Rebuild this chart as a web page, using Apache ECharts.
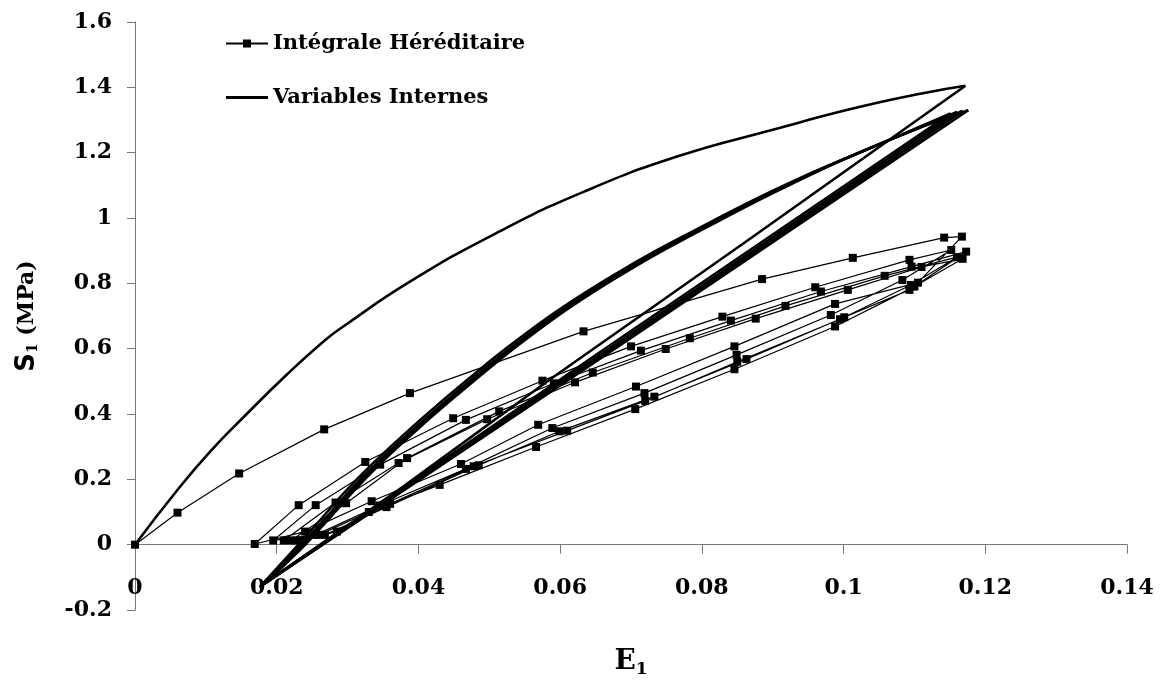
<!DOCTYPE html>
<html>
<head>
<meta charset="utf-8">
<script src="https://cdn.jsdelivr.net/npm/echarts@6/dist/echarts.min.js"></script>
<style>
  html, body { margin: 0; padding: 0; background: #fff; }
  #main { width: 1163px; height: 682px; }
</style>
</head>
<body>
<div id="main"></div>
<script>
// axis ranges / ticks
var xMin = 0, xMax = 0.14, xStep = 0.02;
var yMin = -0.2, yMax = 1.6, yStep = 0.2;

// Intégrale Héréditaire : points, in drawing order
var iiLoad1 = [[0, 0], [0.0060, 0.098], [0.0147, 0.218], [0.0267, 0.353], [0.0388, 0.464], [0.0633, 0.653], [0.0885, 0.813], [0.1013, 0.878], [0.1142, 0.940], [0.1167, 0.943]];
var iiUnload1 = [[0.1105, 0.802], [0.0988, 0.737], [0.0846, 0.607], [0.0707, 0.484], [0.0569, 0.367], [0.0460, 0.247], [0.0334, 0.133], [0.0240, 0.040], [0.0169, 0.002]];
var iiLoad2 = [[0.0231, 0.121], [0.0325, 0.253], [0.0449, 0.387], [0.0575, 0.502], [0.0700, 0.607], [0.0829, 0.698], [0.0960, 0.788], [0.1093, 0.872], [0.1152, 0.902]];
var iiUnload2 = [[0.1083, 0.810], [0.0982, 0.703], [0.0849, 0.581], [0.0719, 0.464], [0.0589, 0.357], [0.0467, 0.232], [0.0345, 0.120], [0.0255, 0.030], [0.0195, 0.013]];
var iiLoad3 = [[0.0255, 0.121], [0.0346, 0.245], [0.0467, 0.382], [0.0591, 0.494], [0.0714, 0.594], [0.0841, 0.686], [0.0968, 0.775], [0.1096, 0.851], [0.1173, 0.897]];
var iiUnload3 = [[0.1093, 0.780], [0.1001, 0.696], [0.0863, 0.568], [0.0733, 0.453], [0.0599, 0.347], [0.0485, 0.243], [0.0355, 0.115], [0.0268, 0.030], [0.0210, 0.013]];
var iiLoad4 = [[0.0283, 0.129], [0.0372, 0.250], [0.0497, 0.384], [0.0621, 0.497], [0.0749, 0.599], [0.0876, 0.692], [0.1006, 0.780], [0.1110, 0.850], [0.1168, 0.875]];
var iiUnload4 = [[0.1100, 0.790], [0.0988, 0.668], [0.0846, 0.537], [0.0706, 0.415], [0.0566, 0.299], [0.0430, 0.183], [0.0330, 0.100], [0.0260, 0.030], [0.0220, 0.013]];
var iiLoad5 = [[0.0298, 0.127], [0.0384, 0.265], [0.0514, 0.408], [0.0646, 0.527], [0.0783, 0.632], [0.0918, 0.731], [0.1058, 0.823], [0.1160, 0.880]];
var iiUnload5 = [[0.1095, 0.795], [0.0995, 0.690], [0.0850, 0.560], [0.0720, 0.440], [0.0610, 0.349], [0.0478, 0.240], [0.0360, 0.125], [0.0285, 0.040], [0.0228, 0.013]];

// Variables Internes : one branch per array
var viLoad1 = [[0, 0], [0.0059, 0.165], [0.0106, 0.285], [0.0153, 0.390], [0.0214, 0.520], [0.0266, 0.622], [0.0294, 0.668], [0.0388, 0.805], [0.0511, 0.955], [0.0633, 1.080], [0.0765, 1.188], [0.0900, 1.270], [0.1013, 1.335], [0.1112, 1.382], [0.1172, 1.405]];
var viUnload1 = [[0.1172, 1.405], [0.0867, 0.935], [0.0585, 0.505], [0.0380, 0.180], [0.0176, -0.130]];
var viLoad2 = [[0.0176, -0.130], [0.0220, -0.025], [0.0251, 0.050], [0.0313, 0.200], [0.0379, 0.336], [0.0440, 0.452], [0.0499, 0.558], [0.0544, 0.634], [0.0614, 0.742], [0.0709, 0.868], [0.0781, 0.952], [0.0916, 1.100], [0.1057, 1.232], [0.1151, 1.320]];
var viUnload2 = [[0.1151, 1.320], [0.0660, 0.595], [0.0178, -0.125]];
var viLoad3 = [[0.0178, -0.125], [0.0225, -0.022], [0.0257, 0.052], [0.0319, 0.202], [0.0385, 0.338], [0.0446, 0.453], [0.0505, 0.559], [0.0550, 0.635], [0.0620, 0.743], [0.0715, 0.869], [0.0787, 0.953], [0.0922, 1.103], [0.1062, 1.236], [0.1160, 1.325]];
var viUnload3 = [[0.1160, 1.325], [0.0668, 0.598], [0.0180, -0.122]];
var viLoad4 = [[0.0180, -0.122], [0.0229, -0.020], [0.0261, 0.054], [0.0323, 0.204], [0.0389, 0.340], [0.0450, 0.455], [0.0509, 0.561], [0.0554, 0.637], [0.0624, 0.745], [0.0719, 0.871], [0.0791, 0.956], [0.0926, 1.106], [0.1066, 1.240], [0.1168, 1.328]];
var viUnload4 = [[0.1168, 1.328], [0.0675, 0.600], [0.0182, -0.120]];
var viLoad5 = [[0.0182, -0.120], [0.0232, -0.018], [0.0264, 0.056], [0.0327, 0.206], [0.0393, 0.342], [0.0454, 0.457], [0.0513, 0.563], [0.0558, 0.639], [0.0628, 0.747], [0.0723, 0.873], [0.0795, 0.958], [0.0930, 1.108], [0.1070, 1.244], [0.1176, 1.330]];
var viUnload5 = [[0.1176, 1.330], [0.0679, 0.602], [0.0184, -0.118]];

var serifFont = "DejaVu Serif";
var gridTop = 22, gridBottom = 72, chartH = 682;

var iiData = [].concat(iiLoad1, iiUnload1, iiLoad2, iiUnload2, iiLoad3, iiUnload3, iiLoad4, iiUnload4, iiLoad5, iiUnload5);

var viLoads = [viLoad1, viLoad2, viLoad3, viLoad4, viLoad5];
var viUnloads = [viUnload1, viUnload2, viUnload3, viUnload4, viUnload5];

// the x axis sits on S = 0, so lift it from the grid bottom by that much
var plotH = chartH - gridTop - gridBottom;
var zeroLift = plotH * (0 - yMin) / (yMax - yMin);

var series = [];
series.push({
  name: "Intégrale Héréditaire",
  type: "line",
  data: iiData,
  symbol: "rect",
  symbolSize: 8,
  showAllSymbol: true,
  lineStyle: { color: "#000", width: 1.2 },
  itemStyle: { color: "#000" },
  z: 3,
});
for (var i = 0; i < viLoads.length; i++) {
  series.push({
    name: "Variables Internes",
    type: "line",
    data: viLoads[i],
    smooth: true,
    symbol: "none",
    lineStyle: { color: "#000", width: 2.6 },
    itemStyle: { color: "#000" },
  });
  series.push({
    name: "Variables Internes",
    type: "line",
    data: viUnloads[i],
    symbol: "none",
    lineStyle: { color: "#000", width: 2.6 },
    itemStyle: { color: "#000" },
  });
}

var option = {
  animation: false,
  backgroundColor: "#fff",
  grid: { left: 135, right: 36, top: gridTop, bottom: gridBottom, containLabel: false, outerBoundsMode: "none" },
  legend: {
    data: [
      { name: "Intégrale Héréditaire" },
      { name: "Variables Internes", icon: "path://M0,0 L42,0 L42,3 L0,3 Z" },
    ],
    orient: "vertical",
    left: 220,
    top: 28,
    itemGap: 33,
    itemWidth: 42,
    itemHeight: 10,
    textStyle: { fontFamily: serifFont, fontWeight: "bold", fontSize: 21, color: "#000" },
  },
  xAxis: {
    type: "value",
    min: xMin,
    max: xMax,
    interval: xStep,
    offset: -zeroLift,
    splitLine: { show: false },
    axisLine: { onZero: false, lineStyle: { color: "#777", width: 1 } },
    axisTick: { show: true, length: 9, lineStyle: { color: "#777" } },
    axisLabel: { margin: 33, fontFamily: serifFont, fontWeight: "bold", fontSize: 22, color: "#000" },
    name: "{b|E}{s|1}",
    nameLocation: "middle",
    nameGap: 102,
    nameTextStyle: {
      rich: {
        b: { fontFamily: serifFont, fontWeight: "bold", fontSize: 28, color: "#000" },
        s: { fontFamily: serifFont, fontWeight: "bold", fontSize: 17, color: "#000", padding: [14, 0, 0, 0] },
      },
    },
  },
  yAxis: {
    type: "value",
    min: yMin,
    max: yMax,
    interval: yStep,
    splitLine: { show: false },
    axisLine: { show: true, onZero: false, lineStyle: { color: "#777", width: 1 } },
    axisTick: { show: true, length: 8, lineStyle: { color: "#777" } },
    axisLabel: { margin: 23, fontFamily: serifFont, fontWeight: "bold", fontSize: 22, color: "#000" },
    name: "{b|S}{s|1}{t| (MPa)}",
    nameLocation: "middle",
    nameGap: 95,
    nameTextStyle: {
      rich: {
        b: { fontFamily: "DejaVu Sans", fontWeight: "bold", fontSize: 26, color: "#000" },
        s: { fontFamily: serifFont, fontWeight: "bold", fontSize: 14, color: "#000", padding: [12, 0, 0, 0] },
        t: { fontFamily: serifFont, fontWeight: "bold", fontSize: 22, color: "#000" },
      },
    },
  },
  series: series,
};

var chartDom = document.getElementById("main");
var myChart = echarts.init(chartDom);
option && myChart.setOption(option);
</script>
</body>
</html>
